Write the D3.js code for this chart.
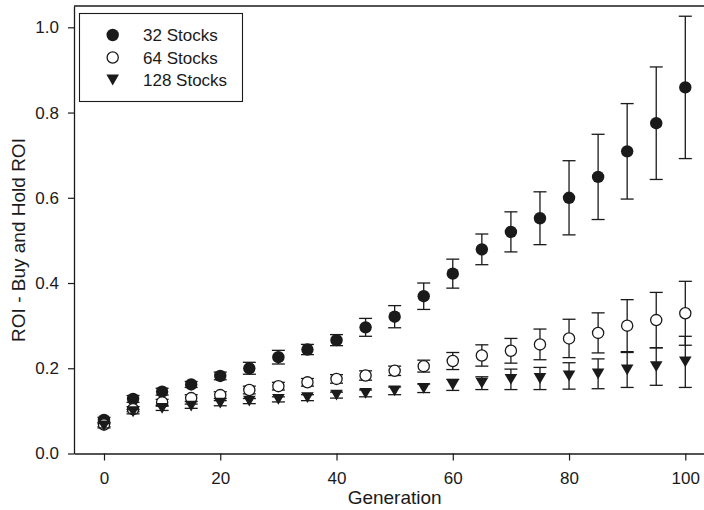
<!DOCTYPE html>
<html>
<head>
<meta charset="utf-8">
<script src="https://cdn.jsdelivr.net/npm/d3@7"></script>
<style>
  html, body { margin: 0; padding: 0; background: #fff; }
  svg { display: block; }
  text { font-family: "Liberation Sans", Arial, sans-serif; fill: #1a1a1a; }
</style>
</head>
<body>
<svg id="chart" width="704" height="510"></svg>
<script>
const generations = [0,5,10,15,20,25,30,35,40,45,50,55,60,65,70,75,80,85,90,95,100];
const s32 = [0.079,0.128,0.145,0.162,0.182,0.200,0.226,0.244,0.266,0.296,0.321,0.369,0.422,0.479,0.520,0.552,0.600,0.649,0.709,0.775,0.859];
const e32 = [0.006,0.008,0.008,0.007,0.009,0.014,0.016,0.012,0.013,0.021,0.026,0.031,0.034,0.036,0.047,0.062,0.087,0.100,0.112,0.132,0.167];
const s64 = [0.068,0.104,0.120,0.130,0.137,0.149,0.158,0.167,0.175,0.183,0.194,0.205,0.217,0.230,0.241,0.256,0.270,0.283,0.300,0.313,0.329];
const e64 = [0.005,0.006,0.007,0.008,0.008,0.009,0.009,0.009,0.010,0.011,0.011,0.014,0.020,0.025,0.029,0.036,0.045,0.047,0.061,0.065,0.075];
const s128 = [0.065,0.098,0.106,0.111,0.118,0.123,0.127,0.131,0.137,0.141,0.147,0.153,0.161,0.165,0.174,0.176,0.182,0.187,0.196,0.204,0.215];
const e128 = [0.005,0.005,0.005,0.005,0.006,0.006,0.006,0.007,0.007,0.008,0.009,0.010,0.013,0.015,0.024,0.026,0.031,0.035,0.041,0.044,0.060];
const seriesNames = ["32 Stocks","64 Stocks","128 Stocks"];
const xTicks = [0,20,40,60,80,100];
const yTicks = [0.0,0.2,0.4,0.6,0.8,1.0];

const svg = d3.select("#chart");
const ink = "#1a1a1a";

const x = d3.scaleLinear().domain([-5.16, 106]).range([74, 104 + 106 * 5.813]);
const y = d3.scaleLinear().domain([0, 1.05]).range([453.5, 6]);

// frame: top line
svg.append("line").attr("x1", 74).attr("x2", 720).attr("y1", y(1.05)).attr("y2", y(1.05))
  .attr("stroke", ink).attr("stroke-width", 1.3);

// x axis
const xAxis = svg.append("g").attr("transform", `translate(0,${y(0)})`)
  .call(d3.axisBottom(x).tickValues(xTicks).tickFormat(d3.format("d")).tickSize(7).tickSizeOuter(0).tickPadding(11));
xAxis.select(".domain").attr("stroke", ink).attr("stroke-width", 1.3);
xAxis.selectAll(".tick line").attr("stroke", ink).attr("stroke-width", 1.2);
xAxis.selectAll(".tick text").attr("font-size", 17).attr("font-family", "Liberation Sans, Arial, sans-serif").attr("fill", ink);

// y axis
const yAxis = svg.append("g").attr("transform", `translate(74,0)`)
  .call(d3.axisLeft(y).tickValues(yTicks).tickFormat(d3.format(".1f")).tickSize(6).tickSizeOuter(0).tickPadding(9));
yAxis.select(".domain").attr("stroke", ink).attr("stroke-width", 1.3);
yAxis.selectAll(".tick line").attr("stroke", ink).attr("stroke-width", 1.2);
yAxis.selectAll(".tick text").attr("font-size", 17).attr("font-family", "Liberation Sans, Arial, sans-serif").attr("fill", ink);

// axis titles
svg.append("text").attr("x", (x(0) + x(100)) / 2).attr("y", 504).attr("text-anchor", "middle")
  .attr("font-size", 19).text("Generation");
svg.append("text").attr("transform", "translate(25,240) rotate(-90)").attr("text-anchor", "middle")
  .attr("font-size", 19).text("ROI - Buy and Hold ROI");

function triPath(cx, cy) {
  const w = 6.3, h = 5.4;
  return `M${cx - w},${cy - h}L${cx + w},${cy - h}L${cx},${cy + h}Z`;
}

function drawMarker(g, kind, cx, cy) {
  if (kind === 0) {
    g.append("circle").attr("cx", cx).attr("cy", cy).attr("r", 6.2).attr("fill", ink);
  } else if (kind === 1) {
    g.append("circle").attr("cx", cx).attr("cy", cy).attr("r", 5.6).attr("fill", "#fff")
      .attr("stroke", ink).attr("stroke-width", 1.3);
  } else {
    g.append("path").attr("d", triPath(cx, cy)).attr("fill", ink);
  }
}

const series = [
  { vals: s32, errs: e32 },
  { vals: s64, errs: e64 },
  { vals: s128, errs: e128 }
];

series.forEach((s, k) => {
  const g = svg.append("g");
  const capW = 6.5;
  generations.forEach((gen, i) => {
    const cx = x(gen);
    const top = y(s.vals[i] + s.errs[i]);
    const bot = y(s.vals[i] - s.errs[i]);
    g.append("line").attr("x1", cx).attr("x2", cx).attr("y1", top).attr("y2", bot)
      .attr("stroke", ink).attr("stroke-width", 1.3);
    g.append("line").attr("x1", cx - capW).attr("x2", cx + capW).attr("y1", top).attr("y2", top)
      .attr("stroke", ink).attr("stroke-width", 1.3);
    g.append("line").attr("x1", cx - capW).attr("x2", cx + capW).attr("y1", bot).attr("y2", bot)
      .attr("stroke", ink).attr("stroke-width", 1.3);
  });
  generations.forEach((gen, i) => drawMarker(g, k, x(gen), y(s.vals[i])));
});

// legend
const lg = svg.append("g");
lg.append("rect").attr("x", 79.5).attr("y", 13.5).attr("width", 163).attr("height", 88)
  .attr("fill", "#fff").attr("stroke", ink).attr("stroke-width", 1.1);
const rowsY = [35, 57.5, 80];
seriesNames.forEach((name, k) => {
  drawMarker(lg, k, 112.7, rowsY[k]);
  lg.append("text").attr("x", 143).attr("y", rowsY[k] + 6).attr("font-size", 17).text(name);
});
</script>
</body>
</html>
